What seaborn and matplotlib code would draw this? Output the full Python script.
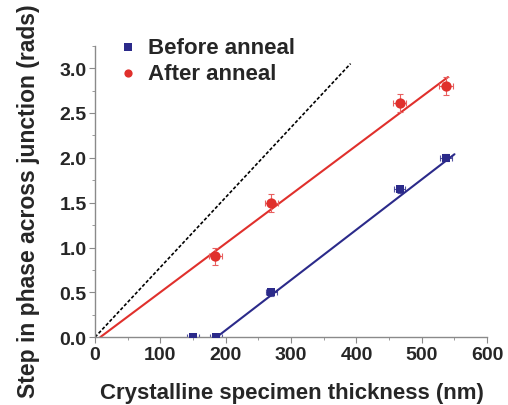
import matplotlib
matplotlib.use("Agg")
import matplotlib.pyplot as plt
import seaborn as sns
import pandas as pd
import numpy as np
from matplotlib.ticker import MultipleLocator

sns.set_style("ticks")
plt.rcParams['font.family'] = ['Liberation Sans', 'DejaVu Sans']
plt.rcParams['font.weight'] = 'bold'

# data
before_x = [150, 185, 270, 466, 537]
before_y = [0.0, 0.0, 0.5, 1.65, 2.0]
before_xerr = [9, 9, 9, 9, 9]
before_yerr = [0.02, 0.02, 0.04, 0.04, 0.04]

after_x = [184, 270, 466, 537]
after_y = [0.9, 1.5, 2.61, 2.8]
after_xerr = [10, 10, 10, 10]
after_yerr = [0.1, 0.1, 0.1, 0.1]

before_fit_x = [186, 550]
before_fit_y = [0.0, 2.04]
after_fit_x = [8, 540]
after_fit_y = [0.0, 2.9]
theory_x = [0, 391]
theory_y = [0.0, 3.05]

blue = "#2b2a8a"
red = "#e0302c"

fig = plt.figure(figsize=(5.08, 4.06), dpi=100)
ax = fig.add_axes([0.187, 0.167, 0.772, 0.718])

sns.lineplot(x=theory_x, y=theory_y, ax=ax, color="black", lw=1.2,
             linestyle=(0, (2, 1.2)))
sns.lineplot(x=after_fit_x, y=after_fit_y, ax=ax, color=red, lw=1.5)
sns.lineplot(x=before_fit_x, y=before_fit_y, ax=ax, color=blue, lw=1.5)

ax.errorbar(before_x, before_y, xerr=before_xerr, yerr=before_yerr, fmt='none',
            ecolor=blue, elinewidth=0.8, capsize=2, capthick=0.8, alpha=0.8)
ax.errorbar(after_x, after_y, xerr=after_xerr, yerr=after_yerr, fmt='none',
            ecolor="#e86060", elinewidth=0.8, capsize=2, capthick=0.8)

sns.scatterplot(x=before_x, y=before_y, ax=ax, marker='s', color=blue, s=40,
                edgecolor=blue, linewidth=0, label="Before anneal", zorder=5)
sns.scatterplot(x=after_x, y=after_y, ax=ax, marker='o', color=red, s=55,
                edgecolor=red, linewidth=0, label="After anneal", zorder=5)

ax.set_xlim(0, 600)
ax.set_ylim(0, 3.25)
ax.xaxis.set_major_locator(MultipleLocator(100))
ax.xaxis.set_minor_locator(MultipleLocator(50))
ax.yaxis.set_major_locator(MultipleLocator(0.5))
ax.yaxis.set_minor_locator(MultipleLocator(0.25))
ax.yaxis.set_major_formatter(matplotlib.ticker.FormatStrFormatter('%.1f'))

for s in ['top', 'right']:
    ax.spines[s].set_visible(False)
for s in ['left', 'bottom']:
    ax.spines[s].set_color("#8a8a8a")
    ax.spines[s].set_linewidth(1.0)
ax.tick_params(which='major', length=4, color="#8a8a8a", labelsize=14, pad=2)
ax.tick_params(which='minor', length=2.5, color="#8a8a8a")
for lab in ax.get_xticklabels() + ax.get_yticklabels():
    lab.set_fontweight('bold')

ax.set_xlabel("Crystalline specimen thickness (nm)", fontsize=16, fontweight='bold')
ax.set_ylabel("Step in phase across junction (rads)", fontsize=16.5, fontweight='bold')
ax.xaxis.set_label_coords(0.503, -0.152)
ax.yaxis.set_label_coords(-0.14, 0.47)

leg = ax.legend(loc='upper left', bbox_to_anchor=(0.033, 1.06), frameon=False,
                fontsize=16, handletextpad=0.4, handlelength=1.0,
                labelspacing=0.2, borderaxespad=0, markerscale=0.8)
for t in leg.get_texts():
    t.set_fontweight('bold')

fig.savefig("out.png", dpi=100)
